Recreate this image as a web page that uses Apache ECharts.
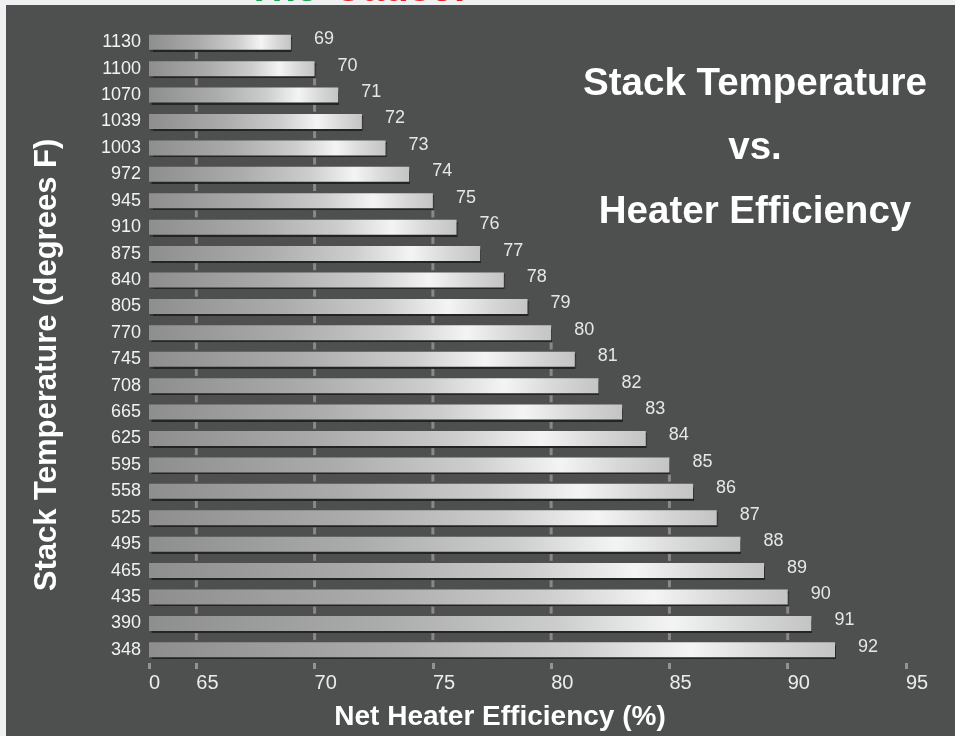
<!DOCTYPE html>
<html>
<head>
<meta charset="utf-8">
<script src="https://cdn.jsdelivr.net/npm/echarts@6/dist/echarts.min.js"></script>
<style>
    html, body { margin: 0; padding: 0; background: #eef0f2; }
    #chart { width: 955px; height: 736px; }
</style>
</head>
<body>
<div id="chart"></div>
<script>
// stack temperature (degrees F), top to bottom
var temps = ['1130', '1100', '1070', '1039', '1003', '972', '945', '910', '875', '840', '805', '770',
    '745', '708', '665', '625', '595', '558', '525', '495', '465', '435', '390', '348'];
// net heater efficiency (%)
var efficiency = [69, 70, 71, 72, 73, 74, 75, 76, 77, 78, 79, 80,
    81, 82, 83, 84, 85, 86, 87, 88, 89, 90, 91, 92];
// x ticks: the axis is broken, the first tick stands for 0
var xTickValues = [63, 65, 70, 75, 80, 85, 90, 95];
var xTickLabels = ['0', '65', '70', '75', '80', '85', '90', '95'];

var font = '"Liberation Sans", Arial, sans-serif';

// little notches under each bar, at the ticks the bar reaches
var notchData = [];
for (var i = 0; i < temps.length - 1; i++) {
    for (var k = 1; k < xTickValues.length; k++) {
        if (xTickValues[k] <= efficiency[i]) notchData.push([xTickValues[k], temps[i]]);
    }
}

var barGradient = new echarts.graphic.LinearGradient(0, 0, 1, 0, [
    { offset: 0, color: '#8e8e8e' },
    { offset: 0.35, color: '#ababab' },
    { offset: 0.62, color: '#cdcdcd' },
    { offset: 0.79, color: '#f4f4f4' },
    { offset: 0.9, color: '#d8d8d8' },
    { offset: 1, color: '#c4c4c4' }
]);

var chart = echarts.init(document.getElementById('chart'));
chart.setOption({
    backgroundColor: '#eef0f2',
    animation: false,
    graphic: [
        { type: 'rect', z: -10, shape: { x: 6, y: 5, width: 949, height: 731 }, style: { fill: '#4e504f' } },
        // heading of the page above, mostly cut off by the picture edge
        { type: 'text', x: 247, y: 10, style: { text: 'The', fill: '#19a94a', font: 'bold 40px ' + font, textVerticalAlign: 'bottom' } },
        { type: 'text', x: 333, y: 10, style: { text: 'Cause!', fill: '#e3201f', font: 'bold 40px ' + font, textVerticalAlign: 'bottom' } }
    ],
    title: {
        text: 'Stack Temperature\nvs.\nHeater Efficiency',
        left: 755,
        top: 52,
        padding: 0,
        textAlign: 'center',
        textStyle: { color: '#ffffff', fontFamily: font, fontWeight: 'bold', fontSize: 38.5, lineHeight: 64 }
    },
    grid: { left: 149, right: 49, top: 29, bottom: 73, containLabel: false },
    xAxis: {
        type: 'value',
        min: 63,
        max: 95,
        name: 'Net Heater Efficiency (%)',
        nameLocation: 'middle',
        nameGap: 40,
        nameTextStyle: { color: '#ffffff', fontFamily: font, fontWeight: 'bold', fontSize: 28, padding: [0, 55, 0, 0] },
        axisLine: { show: false },
        axisTick: {
            show: true, length: 6, customValues: xTickValues,
            lineStyle: { color: 'rgba(175,175,175,0.7)', width: 3 }
        },
        axisLabel: {
            customValues: xTickValues,
            align: 'left',
            margin: 10,
            color: '#ececec',
            fontFamily: font,
            fontSize: 20,
            formatter: function (v) { return xTickLabels[xTickValues.indexOf(v)]; }
        },
        splitLine: { show: false }
    },
    yAxis: {
        type: 'category',
        data: temps,
        inverse: true,
        name: 'Stack Temperature (degrees F)',
        nameLocation: 'middle',
        nameGap: 86,
        nameRotate: 90,
        nameTextStyle: { color: '#ffffff', fontFamily: font, fontWeight: 'bold', fontSize: 31, padding: [0, 38, 0, 0] },
        axisLine: { show: false },
        axisTick: { show: false },
        axisLabel: { color: '#f2f2f2', fontFamily: font, fontSize: 18, margin: 8 }
    },
    series: [
        {
            type: 'custom',
            data: notchData,
            z: 1,
            renderItem: function (params, api) {
                var p = api.coord([api.value(0), api.value(1)]);
                var band = api.size([0, 1])[1];
                return {
                    type: 'rect',
                    shape: { x: p[0] - 1.5, y: p[1] + band / 2 - 3.5, width: 3, height: 7 },
                    style: { fill: 'rgba(175,175,175,0.6)' }
                };
            }
        },
        {
            type: 'bar',
            data: efficiency,
            barWidth: 15,
            z: 3,
            itemStyle: {
                color: barGradient,
                shadowColor: 'rgba(0,0,0,0.55)',
                shadowOffsetX: 1,
                shadowOffsetY: 2,
                shadowBlur: 1
            },
            label: {
                show: true,
                position: 'right',
                distance: 23,
                offset: [0, -3],
                color: '#e6e6e6',
                fontFamily: font,
                fontSize: 18
            }
        }
    ]
});
</script>
</body>
</html>
